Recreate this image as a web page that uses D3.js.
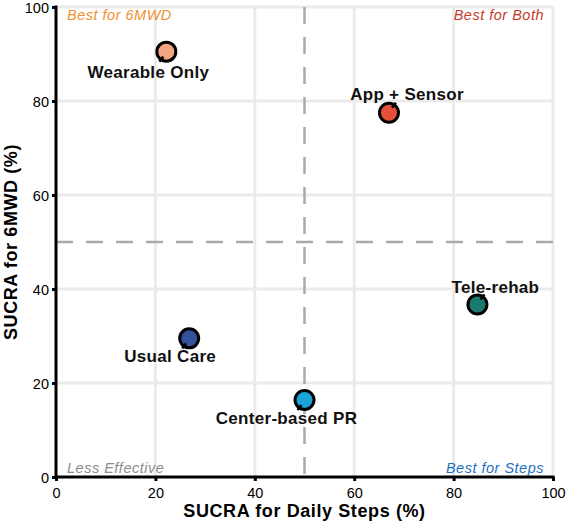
<!DOCTYPE html>
<html><head><meta charset="utf-8">
<script src="https://cdn.jsdelivr.net/npm/d3@7/dist/d3.min.js"></script>
<style>body{margin:0;background:#fff}svg text{font-family:"Liberation Sans",Arial,sans-serif}</style>
</head><body><svg id="c" width="569" height="522"></svg>
<script>
const names = ["Wearable Only","App + Sensor","Tele-rehab","Usual Care","Center-based PR"];
const stepsSucra = [22.2, 67, 84.8, 26.8, 50];
const mwdSucra = [90.5, 77.5, 36.7, 29.5, 16.4];
const colors = ["#f4a582","#e6503a","#1b7a6e","#34519b","#1ba3d8"];
const labelDx = [-18, 18, 18, -19, -18];
const labelDy = [26, -13, -12, 24, 24];
const xTicks = [0,20,40,60,80,100];
const yTicks = [0,20,40,60,80,100];
const quadrants = [
  {t:"Best for 6MWD", x:0, y:100, c:"#ef8f2f", a:"start"},
  {t:"Best for Both", x:100, y:100, c:"#c63b2b", a:"end"},
  {t:"Less Effective", x:0, y:0, c:"#8c8c8c", a:"start"},
  {t:"Best for Steps", x:100, y:0, c:"#1f6fbf", a:"end"}
];

const svg = d3.select("#c");
const x = d3.scaleLinear().domain([0,100]).range([56,553]);
const y = d3.scaleLinear().domain([0,100]).range([477,7]);

// grid
const g = svg.append("g");
g.selectAll(".gx").data(xTicks.filter(d=>d>0)).join("line")
  .attr("x1",d=>x(d)).attr("x2",d=>x(d)).attr("y1",y(0)).attr("y2",y(100))
  .attr("stroke","#ebebeb").attr("stroke-width",3);
g.selectAll(".gy").data(yTicks.filter(d=>d>0)).join("line")
  .attr("y1",d=>y(d)).attr("y2",d=>y(d)).attr("x1",x(0)).attr("x2",x(100))
  .attr("stroke","#ebebeb").attr("stroke-width",3);

// dashed reference lines
svg.append("line").attr("x1",x(50)).attr("x2",x(50)).attr("y1",y(100)).attr("y2",y(0))
  .attr("stroke","#aaaaaa").attr("stroke-width",2.5).attr("stroke-dasharray","17,13");
svg.append("line").attr("y1",y(50)).attr("y2",y(50)).attr("x1",x(0)).attr("x2",x(100))
  .attr("stroke","#aaaaaa").attr("stroke-width",2.5).attr("stroke-dasharray","17,13");

// quadrant labels
svg.selectAll(".q").data(quadrants).join("text")
  .attr("x",d=>d.x===0? x(0)+11 : x(100)-9)
  .attr("y",d=>d.y===100? 20 : 473)
  .attr("text-anchor",d=>d.a).attr("fill",d=>d.c)
  .attr("font-size",14.5).attr("letter-spacing",0.5).attr("font-style","italic").text(d=>d.t);

// axes
const xa = svg.append("g").attr("transform",`translate(0,${y(0)})`)
  .call(d3.axisBottom(x).tickValues(xTicks).tickSize(4).tickSizeOuter(0));
const ya = svg.append("g").attr("transform",`translate(${x(0)},0)`)
  .call(d3.axisLeft(y).tickValues(yTicks).tickSize(4).tickSizeOuter(0));
[xa,ya].forEach(a=>{
  a.select(".domain").attr("stroke","#000").attr("stroke-width",3);
  a.selectAll(".tick line").attr("stroke","#000").attr("stroke-width",3);
  a.selectAll(".tick text").attr("fill","#000").attr("font-size",14.5)
   .style("font-family","'Liberation Sans',Arial,sans-serif");
});
xa.select(".domain").attr("d",`M${x(0)-1.5},0H${x(100)+1.5}`);
ya.select(".domain").attr("d",`M0,${y(0)+1.5}V${y(100)-1.5}`);
xa.selectAll(".tick text").attr("y",21).attr("dy","0");
ya.selectAll(".tick text").attr("x",-7).attr("dy","0.36em");

// axis titles
svg.append("text").attr("x",(x(0)+x(100))/2).attr("y",517).attr("text-anchor","middle")
  .attr("font-size",18).attr("letter-spacing",0.6).attr("font-weight","bold").text("SUCRA for Daily Steps (%)");
svg.append("text").attr("transform",`translate(17,${(y(0)+y(100))/2}) rotate(-90)`)
  .attr("text-anchor","middle").attr("font-size",18).attr("letter-spacing",0.6).attr("font-weight","bold")
  .text("SUCRA for 6MWD (%)");

const data = names.map((n,i)=>({n, sx:stepsSucra[i], sy:mwdSucra[i], c:colors[i], dx:labelDx[i], dy:labelDy[i]}));

// points
svg.selectAll(".pt").data(data).join("circle")
  .attr("cx",d=>x(d.sx)).attr("cy",d=>y(d.sy)).attr("r",9.5)
  .attr("fill",d=>d.c).attr("stroke","#000").attr("stroke-width",3);

// segments from label toward point
svg.selectAll(".seg").data(data).join("line")
  .attr("x1",d=>x(d.sx)+Math.sign(d.dx)*3).attr("y1",d=>y(d.sy)+Math.sign(d.dy)*5)
  .attr("x2",d=>x(d.sx)+Math.sign(d.dx)*7).attr("y2",d=>y(d.sy)+Math.sign(d.dy)*10)
  .attr("stroke","#000").attr("stroke-width",2.5);

// labels
svg.selectAll(".lb").data(data).join("text")
  .attr("x",d=>x(d.sx)+d.dx).attr("y",d=>y(d.sy)+d.dy)
  .attr("text-anchor","middle").attr("font-size",17).attr("letter-spacing",0.3).attr("font-weight","bold")
  .attr("fill","#111").text(d=>d.n);
</script></body></html>
